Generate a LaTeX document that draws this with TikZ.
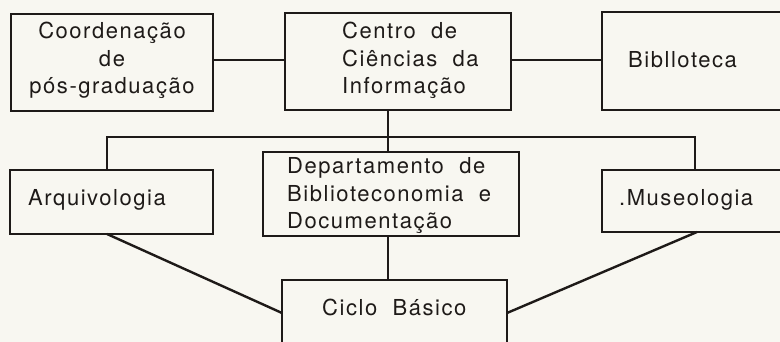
\documentclass[tikz,border=0pt]{standalone}
\usepackage{fontspec}
\setmainfont{TeX Gyre Heros}[LetterSpace=7,WordSpace=2]
\definecolor{ink}{RGB}{30,26,24}
\definecolor{paper}{RGB}{248,247,241}
\begin{document}
\begin{tikzpicture}[x=1pt,y=-1pt,
  box/.style={draw=ink, line width=2.4pt, inner sep=0pt, outer sep=0pt, anchor=north west},
  lbl/.style={inner sep=0pt, text=ink, font=\fontsize{22}{27.5}\selectfont},
  link/.style={draw=ink, line width=2.4pt}]
\fill[paper] (0,0) rectangle (780,342);
\useasboundingbox (0,0) rectangle (780,342);
\begin{scope}
\clip (0,0) rectangle (780,342);
% boxes
\node[box, minimum width=202pt, minimum height=97pt] (coord) at (11,14) {};
\node[box, minimum width=226pt, minimum height=97pt] (centro) at (285,13) {};
\node[box, minimum width=200pt, minimum height=98pt] (biblio) at (602,12) {};
\node[box, minimum width=203pt, minimum height=64pt] (arq) at (10,170) {};
\node[box, minimum width=256pt, minimum height=84pt] (dept) at (263,152) {};
\node[box, minimum width=200pt, minimum height=62pt] (museo) at (602,170) {};
\node[box, minimum width=225pt, minimum height=90pt] (ciclo) at (282,280) {};
% texts
\node[lbl, anchor=base] (tcoord) at (112,39) {\vtop{\halign{\hfil#\hfil\cr Coordenação\cr de\cr pós-graduação\cr}}};
\node[lbl, anchor=base west] (tcentro) at (342,39) {\vtop{\halign{#\hfil\cr Centro de\cr Ciências da\cr Informação\cr}}};
\node[lbl, anchor=base west] (tbiblio) at (628,68) {Biblloteca};
\node[lbl, anchor=base west] (tarq) at (28,206) {Arquivologia};
\node[lbl, anchor=base west] (tdept) at (287,174) {\vtop{\halign{#\hfil\cr Departamento de\cr Biblioteconomia e\cr Documentação\cr}}};
\node[lbl, anchor=base west] (tmuseo) at (619,206) {.Museologia};
\node[lbl, anchor=base west] (tciclo) at (322,315) {Ciclo Básico};
% junctions
\coordinate (jL) at (107,137);
\coordinate (jR) at (695,137);
\coordinate (jC) at (388,137);
\coordinate (top) at (0,60);
\coordinate (aL) at (107,0);
\coordinate (aR) at (697,0);
\coordinate (cy) at (0,313);
% connectors
\draw[link] (coord.east |- top) -- (centro.west |- top);
\draw[link] (centro.east |- top) -- (biblio.west |- top);
\draw[link] (centro.south -| jC) -- (dept.north -| jC);
\draw[link] (arq.north -| jL) -- (jL) -- (jR) -- (museo.north -| jR);
\draw[link] (dept.south -| jC) -- (ciclo.north -| jC);
\draw[link] (arq.south -| aL) -- (ciclo.west |- cy);
\draw[link] (museo.south -| aR) -- (ciclo.east |- cy);
\end{scope}
\end{tikzpicture}
\end{document}
